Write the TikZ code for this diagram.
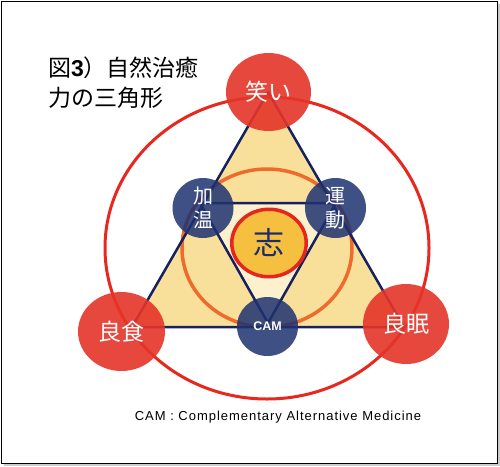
\documentclass[tikz,border=0pt]{standalone}
\usepackage{fontspec}
\setmainfont{Noto Sans CJK JP}
\newfontfamily\latinfont{Liberation Sans}
\newfontfamily\legendfont[LetterSpace=7.5]{Liberation Sans}
\usetikzlibrary{shapes.geometric}

\definecolor{trifill}{HTML}{F9E09A}
\definecolor{innerfill}{HTML}{FDF0CC}
\definecolor{orangering}{HTML}{EE6B2C}
\definecolor{bigring}{HTML}{E8281F}
\definecolor{navy}{HTML}{18215F}
\definecolor{spotred}{HTML}{E5352A}
\definecolor{spotblue}{HTML}{1E3270}
\definecolor{willfill}{HTML}{F5C040}
\definecolor{willring}{HTML}{E52620}
\definecolor{willtext}{HTML}{1D2C6E}

\begin{document}
\begin{tikzpicture}[
        x=1pt,y=-1pt,
        redspot/.style={ellipse,fill=spotred,fill opacity=0.9,text opacity=1,text=white,minimum width=86pt,minimum height=80pt,inner sep=0pt,font=\fontsize{23}{23}\selectfont},
        bluespot/.style={ellipse,fill=spotblue,fill opacity=0.85,text opacity=1,text=white,minimum width=61pt,minimum height=60pt,inner sep=0pt,align=center,font=\fontsize{20}{24}\selectfont},
        triline/.style={draw=navy,line width=2.5pt,line join=round},
        titletext/.style={anchor=west,inner sep=0pt,font=\fontsize{23}{23}\selectfont},
      ]
      \useasboundingbox (0,0) rectangle (500,466);
      % frame with a faint shadow
      \fill[black!20] (4,4) rectangle (500,466);
      \draw[fill=white,line width=0.8pt] (1,1) rectangle (497,463);

      % triangle corners
      \coordinate (tA) at (268,92);
      \coordinate (tB) at (132,327);
      \coordinate (tC) at (404,327);
      \coordinate (iA) at (200,203);
      \coordinate (iB) at (336,203);
      \coordinate (iC) at (268,323);
      \coordinate (ringc) at (267,248);

      \fill[trifill] (tA) -- (tB) -- (tC) -- cycle;
      \fill[innerfill] (iA) -- (iB) -- (iC) -- cycle;
      \draw[orangering,line width=3.5pt] (ringc) ellipse [x radius=85pt,y radius=79pt];
      \draw[triline] (tA) -- (tB) -- (tC) -- cycle;
      \draw[triline] (iA) -- (iB) -- (iC) -- cycle;
      \draw[bigring,line width=3pt] (ringc) ellipse [x radius=162pt,y radius=151pt];

      % centre
      \node[ellipse,fill=willfill,draw=willring,line width=3.5pt,minimum width=74.5pt,minimum height=67.5pt,inner sep=0pt,
            text=willtext,font=\fontsize{31}{31}\selectfont] (will) at (269,243) {志};

      % outer and inner spots
      \node[bluespot] (warm) at (203,208) {加\\温};
      \node[bluespot] (move) at (335.5,208) {運\\動};
      \node[bluespot,minimum height=59pt,font=\latinfont\bfseries\fontsize{12.5}{12.5}\selectfont] (cam) at (267.5,326.5) {CAM};
      \node[redspot,minimum width=85pt,minimum height=78pt] (laugh) at (268.5,92) {笑い};
      \node[redspot,minimum width=87pt,minimum height=79pt] (eat) at (121.5,331.5) {良食};
      \node[redspot] (sleep) at (406,324) {良眠};

      % title and legend
      \node[titletext] (title1) at (48,68) {図{\latinfont\bfseries 3}）自然治癒};
      \node[titletext] (title2) at (48,97.5) {力の三角形};
      \node[font=\legendfont\fontsize{13}{13}\selectfont,inner sep=0pt] (legend) at (278,417) {CAM : Complementary Alternative Medicine};
    \end{tikzpicture}
\end{document}
